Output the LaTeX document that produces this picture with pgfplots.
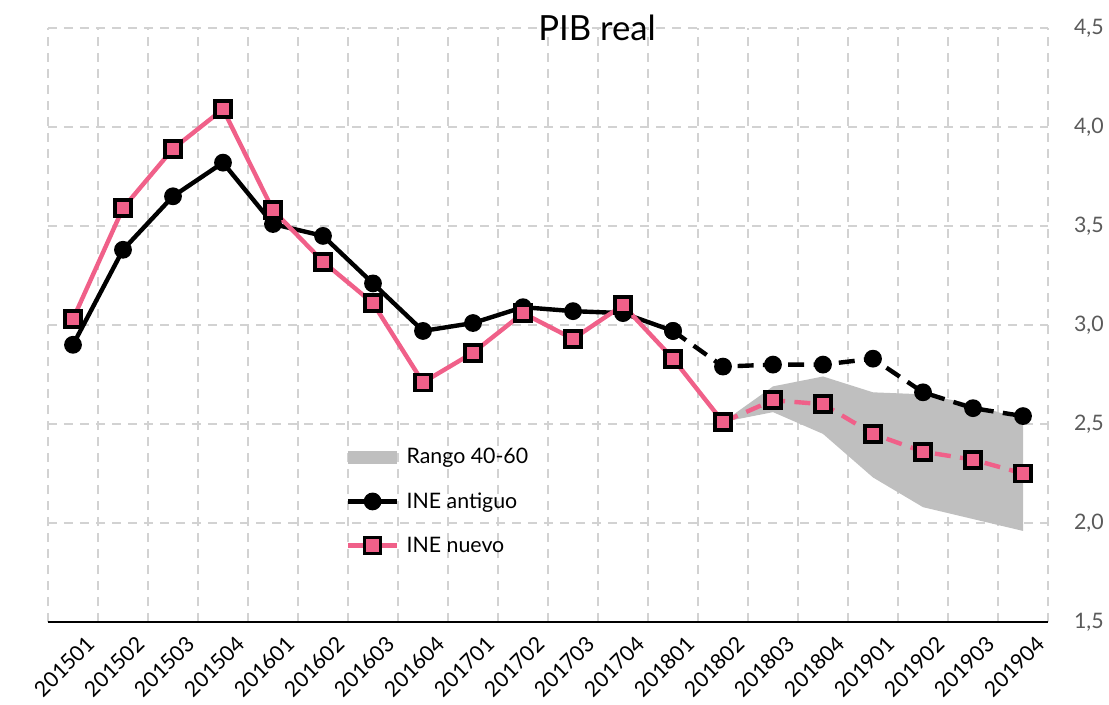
\documentclass[border=0pt]{standalone}
\usepackage{pgfplots}
\pgfplotsset{compat=1.18}
\usepackage{fontspec}
\setmainfont{Lato}
\definecolor{pinkc}{RGB}{240,96,137}
\definecolor{bandc}{RGB}{191,191,191}
\definecolor{gridc}{RGB}{210,210,210}
\definecolor{tickc}{RGB}{90,90,90}
\begin{document}
\begin{tikzpicture}
\path[use as bounding box] (-36pt,-61.5pt) rectangle (795.75pt,466.5pt);
\begin{axis}[
  at={(0,0)}, anchor=south west,
  scale only axis, width=750pt, height=445.5pt,
  xmin=-0.5, xmax=19.5, ymin=1.5, ymax=4.5,
  axis x line*=bottom, axis y line*=right,
  x axis line style={line width=2.2pt, black, shorten <=0pt},
  y axis line style={draw=none},
  xtick={0,...,19},
  xticklabels={201501,201502,201503,201504,201601,201602,201603,201604,201701,201702,201703,201704,201801,201802,201803,201804,201901,201902,201903,201904},
  minor xtick={-0.5,0.5,...,19.5},
  ytick={1.5,2.0,...,4.5},
  major tick length=0pt, minor tick length=0pt,
  xmajorgrids=false, xminorgrids=true, ymajorgrids=true,
  minor grid style={gridc, dashed, line width=1pt, dash pattern=on 7pt off 5pt},
  major grid style={gridc, dashed, line width=1pt, dash pattern=on 7pt off 5pt},
  x tick label style={rotate=45, anchor=north east, font=\fontsize{16}{17}\selectfont, black, inner sep=0pt, yshift=-13pt, xshift=0pt},
  y tick label style={font=\fontsize{16}{18}\selectfont, tickc, xshift=16pt},
  /pgf/number format/.cd, use comma, fixed, fixed zerofill, precision=1, assume math mode=true,
  /pgfplots/.cd,
  title={PIB real},
  title style={at={(0.549,1)}, anchor=base, yshift=-15pt, font=\fontsize{26}{28}\selectfont},
  legend style={draw=none, fill=none, at={(0.293,0.297)}, anchor=north west,
    font=\fontsize{16}{18}\selectfont, row sep=16pt, inner sep=0pt},
  legend cell align=left,
  legend image code/.code={%
    \draw[mark repeat=2,mark phase=2,#1] plot coordinates {(0pt,0pt) (18.5pt,0pt) (37pt,0pt)};},
  clip=false,
]
\addlegendimage{bandc, line width=10pt, mark=none}
\addlegendentry{Rango 40-60}
\addlegendimage{black, line width=3.3pt, mark=*, mark size=5pt, mark options={solid}}
\addlegendentry{INE antiguo}
\addlegendimage{pinkc, line width=3.3pt, mark=square*, mark size=6pt, mark options={solid, fill=pinkc, draw=black, line width=2.8pt}}
\addlegendentry{INE nuevo}

% band
\addplot[fill=bandc, draw=none, forget plot] coordinates {
 (13,2.51) (14,2.69) (15,2.74) (16,2.66) (17,2.65) (18,2.60) (19,2.52)
 (19,1.96) (18,2.02) (17,2.08) (16,2.23) (15,2.45) (14,2.56) (13,2.51)
} -- cycle;

% INE antiguo solid
\addplot[black, line width=3.3pt, mark=*, mark size=5pt, forget plot] coordinates {
 (0,2.90) (1,3.38) (2,3.65) (3,3.82) (4,3.51) (5,3.45) (6,3.21) (7,2.97)
 (8,3.01) (9,3.09) (10,3.07) (11,3.06) (12,2.97)
};
% INE antiguo dashed
\addplot[black, line width=3.3pt, dash pattern=on 12pt off 7pt, mark=*, mark size=5pt, mark options={solid}, forget plot] coordinates {
 (12,2.97) (13,2.79) (14,2.80) (15,2.80) (16,2.83) (17,2.66) (18,2.58) (19,2.54)
};
% INE nuevo solid
\addplot[pinkc, line width=3.3pt, mark=square*, mark size=6pt, mark options={fill=pinkc, draw=black, line width=2.8pt}, forget plot] coordinates {
 (0,3.03) (1,3.59) (2,3.89) (3,4.09) (4,3.58) (5,3.32) (6,3.11) (7,2.71)
 (8,2.86) (9,3.06) (10,2.93) (11,3.10) (12,2.83) (13,2.51)
};
% INE nuevo dashed
\addplot[pinkc, line width=3.3pt, dash pattern=on 12pt off 7pt, mark=square*, mark size=6pt, mark options={solid, fill=pinkc, draw=black, line width=2.8pt}, forget plot] coordinates {
 (13,2.51) (14,2.62) (15,2.60) (16,2.45) (17,2.36) (18,2.32) (19,2.25)
};
\end{axis}
\end{tikzpicture}
\end{document}
